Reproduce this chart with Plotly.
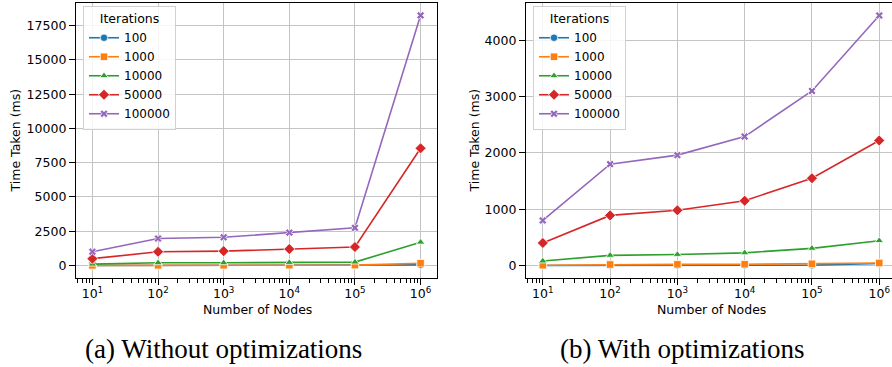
import plotly.graph_objects as go
from plotly.subplots import make_subplots

nodes = [10, 100, 1000, 10000, 100000, 1000000]
iterations = ["100", "1000", "10000", "50000", "100000"]

# (a) Without optimizations
no_opt_100 = [1, 2, 3, 5, 10, 50]
no_opt_1000 = [10, 15, 20, 25, 30, 170]
no_opt_10000 = [100, 200, 200, 220, 250, 1700]
no_opt_50000 = [500, 1000, 1050, 1200, 1350, 8550]
no_opt_100000 = [1000, 1970, 2060, 2400, 2750, 18250]

# (b) With optimizations
opt_100 = [1, 2, 3, 4, 6, 35]
opt_1000 = [5, 18, 20, 22, 30, 45]
opt_10000 = [80, 180, 195, 225, 305, 440]
opt_50000 = [400, 890, 980, 1150, 1550, 2220]
opt_100000 = [800, 1800, 1960, 2290, 3100, 4440]

x_tickvals = [10, 100, 1000, 10000, 100000, 1000000]
x_ticktext = ["10<sup>1</sup>", "10<sup>2</sup>", "10<sup>3</sup>",
              "10<sup>4</sup>", "10<sup>5</sup>", "10<sup>6</sup>"]
left_yticks = [0, 2500, 5000, 7500, 10000, 12500, 15000, 17500]
left_yticktext = ["0", "2500", "5000", "7500", "10000", "12500", "15000", "17500"]
right_yticks = [0, 1000, 2000, 3000, 4000]
right_yticktext = ["0", "1000", "2000", "3000", "4000"]

colors = ["#1f77b4", "#ff7f0e", "#2ca02c", "#d62728", "#9467bd"]
symbols = ["circle", "square", "triangle-up", "diamond", "x"]
msizes = [7.5, 7.5, 7.5, 8.5, 7]

minor_vals = []
for dec in [1, 10, 100, 1000, 10000, 100000, 1000000]:
    for m in range(2, 10):
        minor_vals.append(dec * m)

W, H = 892, 367
top_px, bot_px = 3, 278
fig = make_subplots(rows=1, cols=2)

left_series = [no_opt_100, no_opt_1000, no_opt_10000, no_opt_50000, no_opt_100000]
right_series = [opt_100, opt_1000, opt_10000, opt_50000, opt_100000]

for i, name in enumerate(iterations):
    for col, series, leg in [(1, left_series, "legend"), (2, right_series, "legend2")]:
        fig.add_trace(go.Scatter(
            x=nodes, y=series[i], name=name, mode="lines+markers",
            line=dict(color=colors[i], width=1.6),
            marker=dict(symbol=symbols[i], size=msizes[i], color=colors[i],
                        line=dict(color="white", width=0.8)),
            legend=leg, showlegend=True), row=1, col=col)

font_main = "DejaVu Sans"
grid_c = "#c4c4c4"

common_x = dict(type="log", tickvals=x_tickvals, ticktext=x_ticktext,
                showgrid=True, gridcolor=grid_c, gridwidth=1,
                showline=True, linecolor="black", linewidth=1.3, mirror=True,
                ticks="outside", ticklen=6, tickwidth=1.2, tickcolor="black",
                tickfont=dict(family=font_main, size=12.5, color="black"),
                minor=dict(tickvals=minor_vals, ticks="outside", ticklen=3.5,
                           tickwidth=1, tickcolor="black", showgrid=False),
                ticklabelstandoff=-2,
                zeroline=False, automargin=False)
common_y = dict(showgrid=True, gridcolor=grid_c, gridwidth=1,
                showline=True, linecolor="black", linewidth=1.3,
                ticks="outside", ticklen=6, tickwidth=1.2, tickcolor="black",
                tickfont=dict(family=font_main, size=12.5, color="black"),
                zeroline=False, automargin=False)

fig.update_layout(
    width=W, height=H,
    margin=dict(l=0, r=0, t=top_px, b=H - bot_px, autoexpand=False),
    paper_bgcolor="white", plot_bgcolor="white",
    showlegend=True,
    xaxis=dict(domain=[76 / W, 437 / W], range=[0.75, 6.25], **common_x),
    xaxis2=dict(domain=[526 / W, 1.0], range=[0.75, 6.19], **common_x),
    yaxis=dict(range=[-910, 19150], tickvals=left_yticks, ticktext=left_yticktext,
               mirror=True, **common_y),
    yaxis2=dict(range=[-222, 4662], tickvals=right_yticks, ticktext=right_yticktext,
                mirror=False, **common_y),
)

def py(px):
    return (bot_px - px) / (bot_px - top_px)

leg_common = dict(
    xanchor="left", yanchor="top",
    bgcolor="rgba(255,255,255,0.85)", bordercolor="#d0d0d0", borderwidth=1,
    font=dict(family=font_main, size=12, color="black"),
    title=dict(text="Iterations", side="top center",
               font=dict(family=font_main, size=12.5, color="black")),
    tracegroupgap=0,
)
fig.update_layout(
    legend=dict(x=83 / W, y=py(6), **leg_common),
    legend2=dict(x=533 / W, y=py(6), **leg_common),
)

ann_font = dict(family=font_main, size=12.5, color="black")
cap_font = dict(family="Liberation Serif", size=27, color="black")
annotations = [
    dict(text="Number of Nodes", x=257 / W, y=py(309), font=ann_font),
    dict(text="Number of Nodes", x=711 / W, y=py(309), font=ann_font),
    dict(text="Time Taken (ms)", x=15 / W, y=py(140.5), font=ann_font, textangle=-90),
    dict(text="Time Taken (ms)", x=474 / W, y=py(140.5), font=ann_font, textangle=-90),
    dict(text="(a) Without optimizations", x=223.5 / W, y=py(349), font=cap_font),
    dict(text="(b) With optimizations", x=682 / W, y=py(349), font=cap_font),
]
for a in annotations:
    fig.add_annotation(xref="paper", yref="paper", showarrow=False,
                       xanchor="center", yanchor="middle", **a)

fig.write_html("out.html", config={"displayModeBar": False},
               post_script="document.body.style.margin='0';document.body.style.overflow='hidden';")
